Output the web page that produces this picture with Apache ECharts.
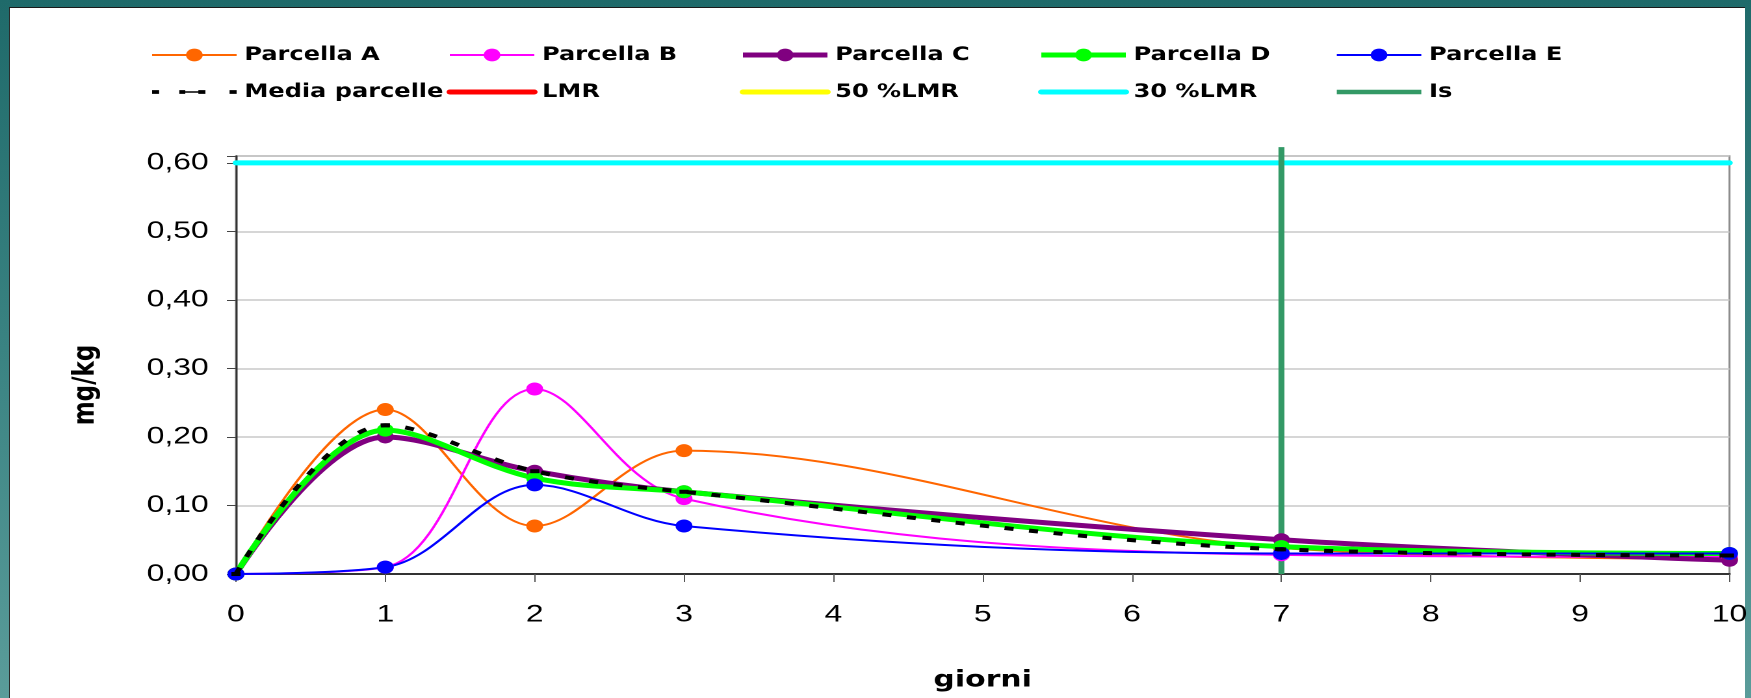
<!DOCTYPE html>
<html><head><meta charset="utf-8">
<script src="https://cdn.jsdelivr.net/npm/echarts@6/dist/echarts.min.js"></script>
<style>
html,body{margin:0;padding:0;}
body{width:1751px;height:698px;overflow:hidden;position:relative;background:linear-gradient(180deg,#1f6a6a 0%,#3a8382 50%,#5a9c9a 100%);}
#panel{position:absolute;left:9px;top:7px;width:1736px;height:691px;background:#fff;border-left:1px solid #2a2a2a;border-top:1px solid #1a1a1a;box-sizing:border-box;}
#chart{position:absolute;left:0;top:0;width:1347px;height:698px;transform:scaleX(1.3);transform-origin:0 0;}
</style></head><body>
<div id="panel"></div><div id="chart"></div>
<script>
// ---- data ----
const days = [0, 1, 2, 3, 7, 10];
const parcellaA = [0, 0.24, 0.07, 0.18, 0.038, 0.022];
const parcellaB = [0, 0.01, 0.27, 0.11, 0.028, 0.025];
const parcellaC = [0, 0.20, 0.15, 0.12, 0.05, 0.02];
const parcellaD = [0, 0.21, 0.14, 0.12, 0.04, 0.03];
const parcellaE = [0, 0.01, 0.13, 0.07, 0.03, 0.03];
const mediaParcelle = [0, 0.217, 0.15, 0.12, 0.036, 0.027];
const lmrX = [0, 10];
const lmr = 2.0, lmr50 = 1.0, lmr30 = 0.6;
const isX = 7;
const isY = [0, 0.623];
const xTicks = [0, 1, 2, 3, 4, 5, 6, 7, 8, 9, 10];
const yTicks = [0, 0.1, 0.2, 0.3, 0.4, 0.5, 0.6];

const names = ['Parcella A','Parcella B','Parcella C','Parcella D','Parcella E','Media parcelle','LMR','50 %LMR','30 %LMR','Is'];

const chart = echarts.init(document.getElementById('chart'), null, {devicePixelRatio: 2});

function pts(arr){ return days.map((d,i)=>[d, arr[i]]); }
function dataSeries(name, arr, color, width){
  return {name, type:'line', data: pts(arr), smooth:0.35, clip:false, color,
    symbol:'circle', symbolSize:13, showAllSymbol:true,
    lineStyle:{color, width}, itemStyle:{color}, z:3};
}
function refSeries(name, val, color){
  return {name, type:'line', data: lmrX.map(x=>[x,val]), symbol:'none', clip:true, color,
    lineStyle:{color, width:5, cap:'round'}, itemStyle:{color}, z:2};
}

const mediaIcon = 'path://M0,0 M84,16 M0,5.5h7v5h-7z M27,5.5h6v5h-6z M33,7h13v2h-13z M46,5.5h7v5h-7z M77,5.5h7v5h-7z';

function legendItem(n){
  if (n === 'Media parcelle') return {name:n, icon: mediaIcon};
  if (['LMR','50 %LMR','30 %LMR','Is'].includes(n)) return {name:n, itemStyle:{opacity:0}};
  return {name:n};
}
const legendCols = [[names[0],names[5]],[names[1],names[6]],[names[2],names[7]],[names[3],names[8]],[names[4],names[9]]];
const legendLeft = [116, 343.5, 569, 798.5, 1026];

const option = {
  animation:false,
  backgroundColor:'transparent',
  grid:{left:181.5, right:15.5, top:156, bottom:124, show:true, borderColor:'#8c8c8c', borderWidth:1.5, backgroundColor:'transparent'},
  legend: legendCols.map((col,i)=>({
    orient:'vertical', left:legendLeft[i], top:45.5, padding:0, itemGap:18, itemWidth:65, itemHeight:16,
    selectedMode:false,
    lineStyle:{width:'inherit'},
    textStyle:{fontFamily:'DejaVu Sans', fontWeight:'bold', fontSize:18.5, color:'#000', padding:[0,0,0,1]},
    data: col.map(legendItem)
  })),
  xAxis:{type:'value', min:xTicks[0], max:xTicks[xTicks.length-1], interval:1,
    name:'giorni', nameLocation:'middle', nameGap:95,
    nameTextStyle:{fontFamily:'DejaVu Sans', fontWeight:'bold', fontSize:23, color:'#000'},
    axisLine:{show:true, lineStyle:{color:'#333', width:2}},
    axisTick:{show:true, length:8, lineStyle:{color:'#555', width:1}},
    axisLabel:{margin:28, fontFamily:'Liberation Sans', fontSize:24.5, color:'#000',
      formatter:v=> xTicks.includes(v) ? String(v) : ''},
    splitLine:{show:false}},
  yAxis:{type:'value', min:0, max:0.61, interval:0.1,
    name:'mg/kg', nameLocation:'middle', nameGap:104,
    nameTextStyle:{fontFamily:'DejaVu Sans', fontWeight:'bold', fontSize:23, color:'#000', padding:[0,40,0,0]},
    axisLine:{show:true, lineStyle:{color:'#333', width:1.5}},
    axisTick:{show:true, length:7, lineStyle:{color:'#444', width:1}},
    axisLabel:{margin:21, fontFamily:'Liberation Sans', fontSize:24.5, color:'#000',
      formatter:v=>{ const t = yTicks.find(y=>Math.abs(y-v)<1e-6); return t===undefined ? '' : t.toFixed(2).replace('.', ','); }},
    splitLine:{show:true, lineStyle:{color:'#c8c8c8', width:1.5}}},
  series:[
    refSeries(names[6], lmr, '#FF0000'),
    refSeries(names[7], lmr50, '#FFFF00'),
    refSeries(names[8], lmr30, '#00FFFF'),
    {name:names[9], type:'line', data: isY.map(y=>[isX,y]), symbol:'none', clip:false, color:'#339966',
      lineStyle:{color:'#339966', width:4.6}, itemStyle:{color:'#339966'}, z:2},
    dataSeries(names[0], parcellaA, '#FF6600', 2),
    dataSeries(names[1], parcellaB, '#FF00FF', 2),
    dataSeries(names[2], parcellaC, '#800080', 5),
    dataSeries(names[3], parcellaD, '#00FF00', 5),
    dataSeries(names[4], parcellaE, '#0000FF', 2),
    {name:names[5], type:'line', data: pts(mediaParcelle), smooth:0.35, clip:false, color:'#000',
      symbol:'rect', symbolSize:[7,4], lineStyle:{color:'#000', width:4, type:[7,12]}, itemStyle:{color:'#000'}, z:4}
  ]
};
chart.setOption(option);
</script>
</body></html>
